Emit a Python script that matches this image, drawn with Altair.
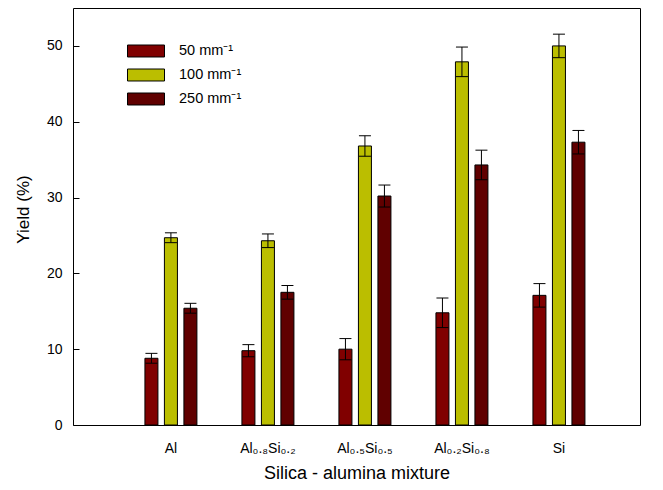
import altair as alt
import pandas as pd

categories = ["Al", "Al₀.₈Si₀.₂", "Al₀.₅Si₀.₅", "Al₀.₂Si₀.₈", "Si"]
series = ["50 mm⁻¹", "100 mm⁻¹", "250 mm⁻¹"]
colors = ["#800000", "#bbbe00", "#600000"]

y50 = [8.8, 9.8, 10.0, 14.8, 17.1]
e50 = [0.65, 0.8, 1.4, 1.95, 1.55]
y100 = [24.7, 24.3, 36.8, 47.9, 50.0]
e100 = [0.65, 0.9, 1.35, 1.95, 1.55]
y250 = [15.4, 17.5, 30.2, 34.3, 37.3]
e250 = [0.65, 0.9, 1.45, 1.95, 1.55]

y_ticks = [0, 10, 20, 30, 40, 50]

rows = []
for s, ys, es in zip(series, [y50, y100, y250], [e50, e100, e250]):
    for c, v, e in zip(categories, ys, es):
        rows.append({"cat": c, "series": s, "value": v, "lo": v - e, "hi": v + e})
df = pd.DataFrame(rows)

FONT = "Liberation Sans"

x_enc = alt.X(
    "cat:N",
    sort=categories,
    scale=alt.Scale(paddingInner=0.397, paddingOuter=0.621, align=0.57),
    axis=alt.Axis(
        title="Silica - alumina mixture",
        labelAngle=0,
        ticks=False,
        domain=False,
        labelFontSize=14,
        labelPadding=16,
        titleFontSize=18,
        titleFontWeight="normal",
        titlePadding=9,
        labelColor="black",
        titleColor="black",
        labelFont=FONT,
        titleFont=FONT,
    ),
)
xo_enc = alt.XOffset(
    "series:N",
    sort=series,
    scale=alt.Scale(paddingInner=0.333, paddingOuter=0.1667),
)
y_scale = alt.Scale(domain=[0, 55], nice=False)

bars = alt.Chart(df).mark_bar(stroke="black", strokeWidth=1).encode(
    x=x_enc,
    xOffset=xo_enc,
    y=alt.Y(
        "value:Q",
        scale=y_scale,
        axis=alt.Axis(
            title="Yield (%)",
            values=y_ticks,
            grid=False,
            domain=False,
            offset=-6,
            tickSize=6,
            tickColor="black",
            labelPadding=11,
            labelFontSize=14,
            titleFontSize=17,
            titleFontWeight="normal",
            titlePadding=14,
            titleY=201,
            labelColor="black",
            titleColor="black",
            labelFont=FONT,
            titleFont=FONT,
        ),
    ),
    color=alt.Color(
        "series:N",
        sort=series,
        scale=alt.Scale(domain=series, range=colors),
        legend=alt.Legend(
            title=None,
            orient="none",
            legendX=54,
            legendY=32,
            symbolType="M-1,-0.324H1V0.324H-1Z",
            symbolSize=1369,
            symbolStrokeColor="black",
            symbolStrokeWidth=1,
            symbolOpacity=1,
            labelFontSize=14.5,
            labelFont=FONT,
            labelColor="black",
            labelOffset=14,
            clipHeight=22,
            rowPadding=2,
        ),
    ),
)

err = alt.Chart(df).mark_rule(color="black", strokeWidth=1).encode(
    x=x_enc, xOffset=xo_enc, y=alt.Y("lo:Q", scale=y_scale), y2="hi:Q"
)
cap_hi = alt.Chart(df).mark_tick(color="black", thickness=1, size=12, opacity=1).encode(
    x=x_enc, xOffset=xo_enc, y=alt.Y("hi:Q", scale=y_scale)
)
cap_lo = alt.Chart(df).mark_tick(color="black", thickness=1, size=12, opacity=1).encode(
    x=x_enc, xOffset=xo_enc, y=alt.Y("lo:Q", scale=y_scale)
)

chart = (
    alt.layer(bars, err, cap_hi, cap_lo)
    .properties(
        width=567,
        height=417,
        autosize=alt.AutoSizeParams(type="none"),
        padding={"left": 65, "top": 0, "right": 15, "bottom": 57},
        background="white",
    )
    .configure_view(stroke="black", strokeWidth=1)
)

chart.save("out.html", embed_options={"renderer": "svg", "actions": False})
